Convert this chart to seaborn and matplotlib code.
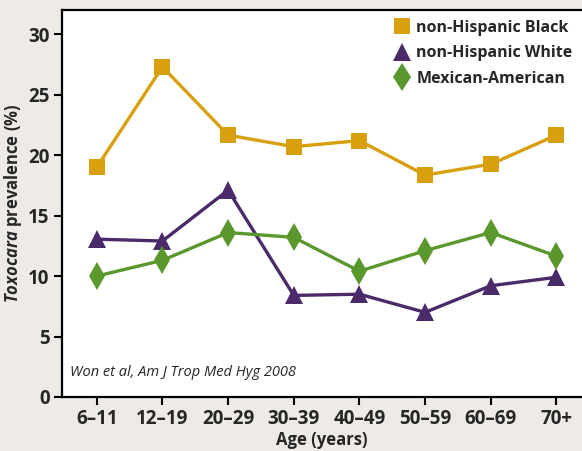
import pandas as pd
import seaborn as sns
import matplotlib.pyplot as plt
from matplotlib.lines import Line2D

ages = ["6–11", "12–19", "20–29", "30–39", "40–49", "50–59", "60–69", "70+"]
black = [19.0, 27.3, 21.65, 20.7, 21.2, 18.35, 19.25, 21.65]
white = [13.05, 12.9, 17.1, 8.4, 8.5, 7.0, 9.2, 9.9]
mexican = [10.0, 11.3, 13.6, 13.2, 10.4, 12.1, 13.6, 11.65]

groups = ["non-Hispanic Black", "non-Hispanic White", "Mexican-American"]
colors = {"non-Hispanic Black": "#D89F0E", "non-Hispanic White": "#4A2A68",
          "Mexican-American": "#5A982D"}
markers = {"non-Hispanic Black": "s", "non-Hispanic White": "^",
           "Mexican-American": "d"}
sizes = {"non-Hispanic Black": 11.5, "non-Hispanic White": 12.5,
         "Mexican-American": 14}

df = pd.DataFrame({
    "age": ages * 3,
    "prev": black + white + mexican,
    "group": [g for g in groups for _ in ages],
})
df["pos"] = [ages.index(a) for a in df["age"]]

sns.set_style("white")
plt.rcParams["font.family"] = ["Open Sans", "DejaVu Sans"]
plt.rcParams["mathtext.fontset"] = "custom"
plt.rcParams["mathtext.it"] = "Open Sans:italic:bold"

fig = plt.figure(figsize=(5.82, 4.51), dpi=100, facecolor="#EEEBE6")
ax = fig.add_axes([62 / 582, 1 - 397 / 451, 1 - 62 / 582, (397 - 10) / 451])
ax.set_facecolor("white")

for g in groups:
    sub = df[df["group"] == g]
    sns.lineplot(data=sub, x="pos", y="prev", color=colors[g], marker=markers[g],
                 markersize=sizes[g], markeredgewidth=0, linewidth=2.4,
                 sort=False, ax=ax, legend=False)

ax.set_xlim(-0.53, 7.39)
ax.set_ylim(0, 32)
ax.set_xticks(range(len(ages)))
ax.set_xticklabels(ages)
ax.set_yticks([0, 5, 10, 15, 20, 25, 30])
for lab in ax.get_xticklabels() + ax.get_yticklabels():
    lab.set_fontweight("bold")
    lab.set_fontsize(13.5)
ax.tick_params(axis="both", direction="out", length=6, width=1.5, color="black",
               left=True, bottom=True, pad=3)
for s in ["left", "bottom", "top"]:
    ax.spines[s].set_color("black")
    ax.spines[s].set_linewidth(1.6)
ax.spines["right"].set_visible(False)

ax.set_xlabel("Age (years)", fontsize=12, fontweight="bold", labelpad=1)
ax.set_ylabel(r"$Toxocara$ prevalence (%)", fontsize=12, fontweight="bold",
              labelpad=3)

ax.text(0.015, 0.045, "Won et al, Am J Trop Med Hyg 2008", transform=ax.transAxes,
        fontsize=10.5, style="italic", ha="left", va="bottom")

handles = [Line2D([], [], linestyle="none", marker=markers[g], color=colors[g],
                  markersize=sizes[g] * 1.05, markeredgewidth=0) for g in groups]
leg = ax.legend(handles, groups, loc="upper right", frameon=False,
                prop={"weight": "bold", "size": 11.5}, handletextpad=0.3,
                labelspacing=0.6, borderaxespad=0.2, bbox_to_anchor=(1.0, 1.0),
                handlelength=1.2)

fig.savefig("out.png", dpi=100, facecolor=fig.get_facecolor())
